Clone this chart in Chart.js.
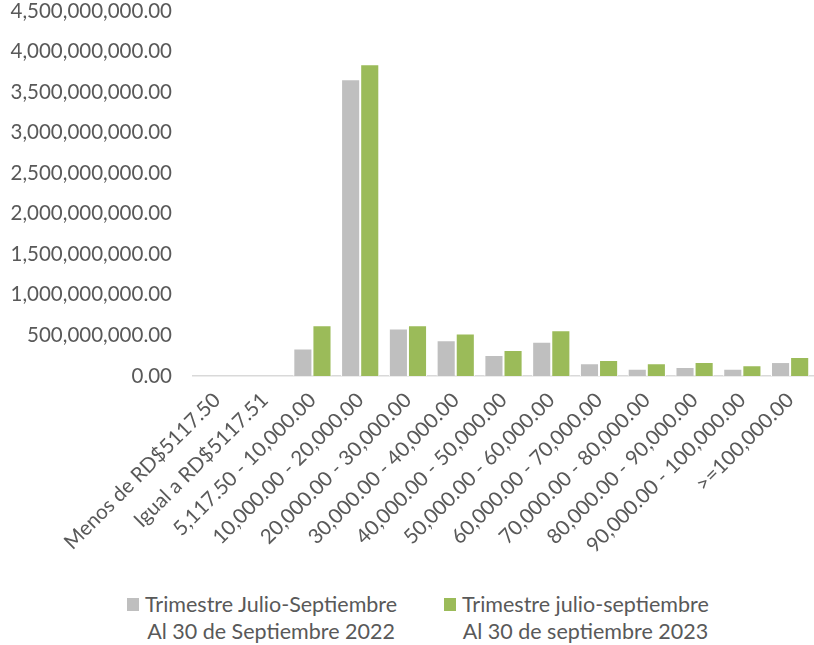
<!DOCTYPE html>
<html>
<head>
<meta charset="utf-8">
<script src="https://cdn.jsdelivr.net/npm/chart.js@4.4.1/dist/chart.umd.min.js"></script>
<style>
  body { margin: 0; background: #fff; width: 814px; height: 645px; overflow: hidden; }
  #wrap { position: relative; width: 814px; height: 580px; }
  .legende { position: absolute; top: 591px; font-family: Lato, sans-serif; font-size: 21.5px; color: #595959; line-height: 27px; }
  .legende .carre { position: absolute; left: 0; top: 7px; width: 12px; height: 13px; }
  .legende .txt { margin-left: 18px; text-align: center; }
</style>
</head>
<body>
<div id="wrap"><canvas id="graphique"></canvas></div>
<div class="legende" style="left:127px"><div class="carre" style="background:#BFBFBF"></div><div class="txt">Trimestre Julio-Septiembre<br>Al 30 de Septiembre 2022</div></div>
<div class="legende" style="left:444px"><div class="carre" style="background:#9BBB59"></div><div class="txt">Trimestre julio-septiembre<br>Al 30 de septiembre 2023</div></div>
<script>
const categories = [
  "Menos de RD$5117.50", "Igual a RD$5117.51", "5,117.50 - 10,000.00",
  "10,000.00 - 20,000.00", "20,000.00 - 30,000.00", "30,000.00 - 40,000.00",
  "40,000.00 - 50,000.00", "50,000.00 - 60,000.00", "60,000.00 - 70,000.00",
  "70,000.00 - 80,000.00", "80,000.00 - 90,000.00", "90,000.00 - 100,000.00",
  ">=100,000.00"
];
const serie2022 = [0, 0, 340000000, 3660000000, 586000000, 442000000, 258000000, 421000000, 156000000, 90000000, 110000000, 90000000, 172000000];
const serie2023 = [0, 0, 627000000, 3845000000, 627000000, 524000000, 320000000, 565000000, 197000000, 156000000, 172000000, 131000000, 233000000];
const yMax = 4500000000;
const yPas = 500000000;

const police = { family: "Lato, sans-serif", size: 20.5 };

const config = {
  type: "bar",
  data: {
    labels: categories,
    datasets: [
      { label: "Trimestre Julio-Septiembre Al 30 de Septiembre 2022", data: serie2022,
        backgroundColor: "#BFBFBF", borderColor: "#FFFFFF", borderWidth: 1 },
      { label: "Trimestre julio-septiembre Al 30 de septiembre 2023", data: serie2023,
        backgroundColor: "#9BBB59", borderColor: "#FFFFFF", borderWidth: 1 }
    ]
  },
  options: {
    responsive: false,
    animation: false,
    layout: { padding: { left: 8, right: 0, top: 0, bottom: 0 } },
    plugins: { legend: { display: false }, tooltip: { enabled: false } },
    datasets: { bar: { categoryPercentage: 0.8, barPercentage: 1.0 } },
    scales: {
      x: {
        grid: { display: false, drawTicks: false },
        border: { display: true, color: "#D9D9D9", width: 1.5 },
        ticks: { color: "#595959", font: police, minRotation: 45, maxRotation: 45, autoSkip: false, padding: 12 },
        afterFit: (axe) => {
          axe.height = 580 - 376;
          axe.paddingLeft = 0;
          axe.paddingRight = 0;
        }
      },
      y: {
        min: 0, max: yMax,
        grid: { display: false, drawTicks: false },
        border: { display: false },
        ticks: {
          stepSize: yPas, color: "#595959", font: police, padding: 21,
          callback: (v) => v.toLocaleString("en-US", { minimumFractionDigits: 2, maximumFractionDigits: 2 })
        },
        // largeur fixe de l'axe, et pas de padding des ticks dans la marge du haut
        afterFit: (axe) => {
          axe.width = 185;
          axe.paddingTop = 11;
        }
      }
    }
  }
};

const canvas = document.querySelector("#graphique");
canvas.width = 814;
canvas.height = 580;
const graphique = new Chart(canvas, config);
</script>
</body>
</html>
